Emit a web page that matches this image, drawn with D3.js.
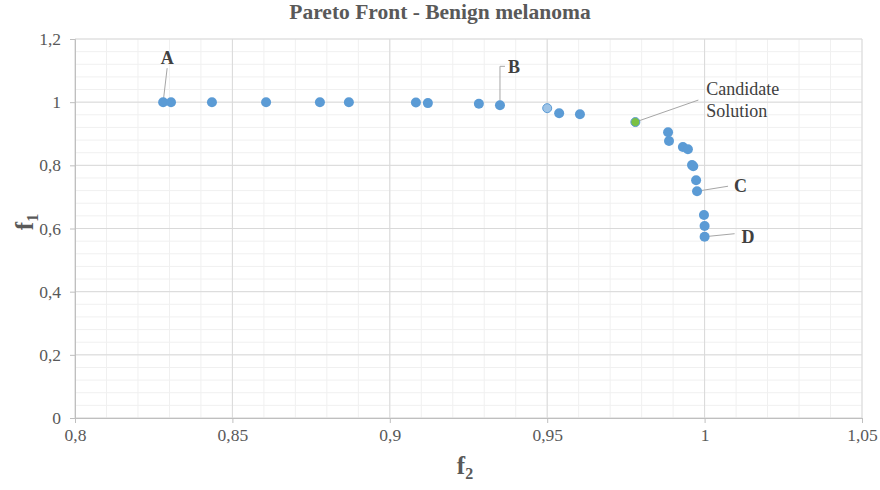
<!DOCTYPE html>
<html>
<head>
<meta charset="utf-8">
<script src="https://cdn.jsdelivr.net/npm/d3@7"></script>
<style>
  body { margin: 0; background: #fff; }
</style>
</head>
<body>
<svg id="chart" width="880" height="490"></svg>
<script>
// f2 (x), f1 (y) of the Pareto front
const f2 = [0.828, 0.8305, 0.8435, 0.8607, 0.8778, 0.887, 0.9083, 0.9121, 0.9283, 0.935,
    0.9538, 0.9604, 0.9884, 0.9887, 0.9931, 0.9947, 0.996, 0.9964, 0.9973, 0.9976, 0.9998, 1.0, 1.0];
const f1 = [1.0, 1.0, 1.0, 1.0, 1.0, 1.0, 0.999, 0.997, 0.995, 0.99,
    0.965, 0.962, 0.905, 0.877, 0.858, 0.851, 0.801, 0.797, 0.753, 0.718, 0.643, 0.608, 0.574];
const highlight = {f2: 0.95, f1: 0.981};
const candidate = {f2: 0.978, f1: 0.937};
const xTicks = [0.8, 0.85, 0.9, 0.95, 1, 1.05];
const yTicks = [0, 0.2, 0.4, 0.6, 0.8, 1, 1.2];
const labels = [
    {name: 'A', f2: 0.828, f1: 1.0},
    {name: 'B', f2: 0.935, f1: 0.99},
    {name: 'C', f2: 0.9976, f1: 0.718},
    {name: 'D', f2: 1.0, f1: 0.574},
];

const serif = "'Liberation Serif', 'Times New Roman', serif";
const svg = d3.select('#chart');
const margin = {left: 75, right: 18, top: 39, bottom: 72};
const width = 880 - margin.left - margin.right,
    height = 490 - margin.top - margin.bottom;

const x = d3.scaleLinear().domain([0.8, 1.05]).range([margin.left, margin.left + width]);
const y = d3.scaleLinear().domain([0, 1.2]).range([margin.top + height, margin.top]);

const fmt = d => String(+d.toFixed(2)).replace('.', ',');
const gray = '#595959';

// minor grid
const grid = svg.append('g');
d3.range(0.8, 1.0501, 0.01).forEach(v => {
    grid.append('line').attr('x1', x(v)).attr('x2', x(v))
        .attr('y1', y(0)).attr('y2', y(1.2)).attr('stroke', '#f0f0f0');
});
d3.range(0, 1.2001, 0.04).forEach(v => {
    grid.append('line').attr('x1', x(0.8)).attr('x2', x(1.05))
        .attr('y1', y(v)).attr('y2', y(v)).attr('stroke', '#f0f0f0');
});
// major grid
xTicks.forEach(v => {
    grid.append('line').attr('x1', x(v)).attr('x2', x(v))
        .attr('y1', y(0)).attr('y2', y(1.2)).attr('stroke', '#d9d9d9');
});
yTicks.forEach(v => {
    grid.append('line').attr('x1', x(0.8)).attr('x2', x(1.05))
        .attr('y1', y(v)).attr('y2', y(v)).attr('stroke', '#d9d9d9');
});

// axes
const xAxis = svg.append('g')
    .attr('transform', `translate(0,${y(0)})`)
    .call(d3.axisBottom(x).tickValues(xTicks).tickFormat(fmt).tickSize(5).tickPadding(6));
const yAxis = svg.append('g')
    .attr('transform', `translate(${x(0.8)},0)`)
    .call(d3.axisLeft(y).tickValues(yTicks).tickFormat(fmt).tickSize(5).tickPadding(9));
[xAxis, yAxis].forEach(a => {
    a.selectAll('path, line').attr('stroke', '#bfbfbf');
    a.selectAll('text').attr('fill', gray).style('font-size', '17.5px');
});

// title & axis titles
svg.append('text').attr('x', 440).attr('y', 19).attr('text-anchor', 'middle')
    .style('font-size', '21.5px').attr('font-weight', 'bold').attr('fill', gray)
    .text('Pareto Front - Benign melanoma');

const xt = svg.append('text').attr('x', 465).attr('y', 474).attr('text-anchor', 'middle')
    .style('font-size', '25px').attr('font-weight', 'bold').attr('fill', gray);
xt.append('tspan').text('f');
xt.append('tspan').style('font-size', '16px').attr('dy', 5).text('2');

const yt = svg.append('text').attr('transform', 'translate(33,222) rotate(-90)')
    .attr('text-anchor', 'middle')
    .style('font-size', '25px').attr('font-weight', 'bold').attr('fill', gray);
yt.append('tspan').text('f');
yt.append('tspan').style('font-size', '16px').attr('dy', 5).text('1');

// leader lines
const lead = svg.append('g').attr('stroke', '#a6a6a6').attr('fill', 'none').attr('stroke-width', 1);
lead.append('path').attr('d', `M${x(0.828)},${y(1.0)} L${x(0.828) + 4},${y(1.0) - 34}`);
lead.append('path').attr('d', `M${x(0.935)},${y(0.99)} V${y(0.99) - 39} h5`);
lead.append('path').attr('d', `M${x(candidate.f2)},${y(candidate.f1)} L${x(candidate.f2) + 63},${y(candidate.f1) - 22}`);
lead.append('path').attr('d', `M${x(0.9976)},${y(0.718)} L${x(0.9976) + 31},${y(0.718) - 5}`);
lead.append('path').attr('d', `M${x(1.0)},${y(0.574)} L${x(1.0) + 30},${y(0.574) - 3}`);

// points
svg.append('g').selectAll('circle').data(f2).join('circle')
    .attr('cx', d => x(d))
    .attr('cy', (d, i) => y(f1[i]))
    .attr('r', 5)
    .attr('fill', '#5b9bd5');
svg.append('circle').attr('cx', x(highlight.f2)).attr('cy', y(highlight.f1)).attr('r', 4.5)
    .attr('fill', '#9dc3e6').attr('stroke', '#5b9bd5').attr('stroke-width', 1);
svg.append('circle').attr('cx', x(candidate.f2)).attr('cy', y(candidate.f1)).attr('r', 4.5)
    .attr('fill', '#7ac143').attr('stroke', '#5b9bd5').attr('stroke-width', 1);

// point labels
const offsets = {A: [4, -44], B: [8, -38], C: [37, -5], D: [37, 0]};
svg.append('g').selectAll('text').data(labels).join('text')
    .attr('x', d => x(d.f2) + offsets[d.name][0])
    .attr('y', d => y(d.f1) + offsets[d.name][1] + 6)
    .attr('text-anchor', d => (d.name === 'A' ? 'middle' : 'start'))
    .style('font-size', '18px').attr('font-weight', 'bold').attr('fill', '#404040')
    .text(d => d.name);

const cs = svg.append('text').style('font-size', '18px').attr('fill', '#404040');
cs.append('tspan').attr('x', x(candidate.f2) + 71).attr('y', y(candidate.f1) - 27).text('Candidate');
cs.append('tspan').attr('x', x(candidate.f2) + 71).attr('y', y(candidate.f1) - 5).text('Solution');

svg.selectAll('text').style('font-family', serif);
</script>
</body>
</html>
